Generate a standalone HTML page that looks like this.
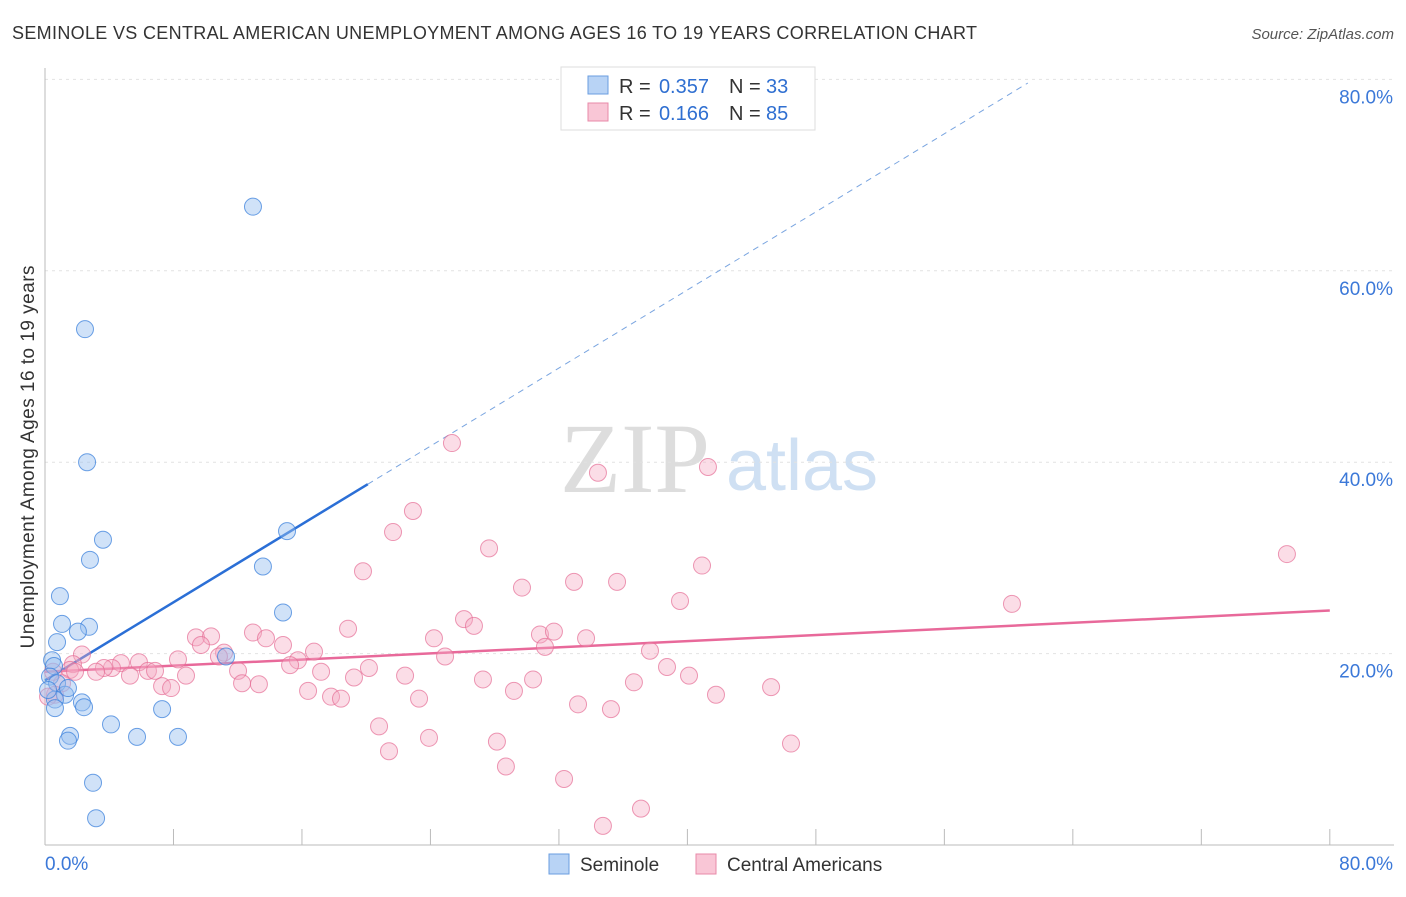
<!DOCTYPE html>
<html><head><meta charset="utf-8"><style>
body{margin:0;background:#fff;font-family:"Liberation Sans",sans-serif;}
svg text{font-family:"Liberation Sans",sans-serif;}
</style></head><body>
<svg id="c" width="1406" height="892">
<text x="12" y="39" font-size="18" fill="#333" textLength="965">SEMINOLE VS CENTRAL AMERICAN UNEMPLOYMENT AMONG AGES 16 TO 19 YEARS CORRELATION CHART</text>
<text x="1394" y="39" font-size="15" fill="#555" font-style="italic" text-anchor="end">Source: ZipAtlas.com</text>
<g>
<text x="635" y="492" font-size="100" fill="#ddd" style="font-family:'Liberation Serif',serif" text-anchor="middle">ZIP</text>
<text x="802" y="490" font-size="72" fill="#cfe0f3" text-anchor="middle">atlas</text>
</g>
<g id="grid"></g><g id="axes"></g><g id="lines"></g><g id="pts"></g>
<text transform="translate(34,457) rotate(-90)" font-size="19" fill="#333" text-anchor="middle" textLength="383">Unemployment Among Ages 16 to 19 years</text>
<g>
<rect x="561" y="67" width="254" height="63" fill="#fff" stroke="#ddd"/>
<rect x="588" y="76" width="20" height="18" fill="#b8d3f5" stroke="#6a9ee0"/>
<rect x="588" y="103" width="20" height="18" fill="#f9c6d6" stroke="#e88aa8"/>
<text x="619" y="93" font-size="20" fill="#333">R =</text>
<text x="709" y="93" font-size="20" fill="#2f6fd1" text-anchor="end">0.357</text>
<text x="729" y="93" font-size="20" fill="#333">N =</text>
<text x="766" y="93" font-size="20" fill="#2f6fd1">33</text>
<text x="619" y="120" font-size="20" fill="#333">R =</text>
<text x="709" y="120" font-size="20" fill="#2f6fd1" text-anchor="end">0.166</text>
<text x="729" y="120" font-size="20" fill="#333">N =</text>
<text x="766" y="120" font-size="20" fill="#2f6fd1">85</text>
</g>
<g>
<rect x="549" y="854" width="20" height="20" fill="#b8d3f5" stroke="#6a9ee0"/>
<text x="580" y="871" font-size="19" fill="#333">Seminole</text>
<rect x="696" y="854" width="20" height="20" fill="#f9c6d6" stroke="#e88aa8"/>
<text x="727" y="871" font-size="19" fill="#333">Central Americans</text>
</g>
</svg>
<script>
const blueX=[12.95,2.49,2.62,3.61,2.80,0.93,15.07,13.57,14.82,1.06,2.74,2.05,0.75,11.27,0.44,0.56,0.31,0.75,1.25,0.62,2.30,2.43,0.62,4.11,7.29,1.56,1.43,5.73,8.28,2.99,3.18,0.19,1.43];
const blueY=[66.7,53.9,40.0,31.9,29.8,26.0,32.8,29.1,24.3,23.1,22.8,22.3,21.2,19.7,19.3,18.7,17.6,16.9,15.7,15.2,14.9,14.4,14.3,12.6,14.2,11.4,10.9,11.3,11.3,6.5,2.8,16.2,16.4];
const pinkX=[25.34,34.43,41.28,22.91,21.67,27.65,19.80,29.70,32.94,35.62,40.91,39.54,77.33,60.21,26.09,26.71,18.87,30.82,31.69,24.22,33.69,31.13,37.67,9.40,10.34,12.95,13.76,14.82,11.15,10.83,9.71,16.75,15.75,15.26,24.91,20.17,8.28,5.85,4.73,4.17,3.67,6.41,5.29,6.85,8.78,12.02,3.18,2.30,1.74,1.56,1.87,1.06,0.62,0.19,17.19,19.24,22.42,27.27,30.39,38.73,40.10,36.67,13.32,12.27,7.29,7.85,16.38,17.81,18.43,23.29,29.20,33.19,35.24,41.78,45.21,20.80,23.91,28.14,21.42,28.70,32.32,37.11,34.74,46.45,0.50];
const pinkY=[42.0,38.9,39.5,34.9,32.7,31.0,28.6,26.9,27.5,27.5,29.2,25.5,30.4,25.2,23.6,22.9,22.6,22.0,22.3,21.6,21.6,20.7,20.3,21.7,21.8,22.2,21.6,20.9,20.1,19.7,20.9,20.2,19.3,18.8,19.7,18.5,19.4,19.1,19.0,18.5,18.5,18.2,17.7,18.2,17.7,18.2,18.1,19.9,18.9,18.3,18.1,16.9,15.7,15.5,18.1,17.5,17.7,17.3,17.3,18.6,17.7,17.0,16.8,16.9,16.6,16.4,16.1,15.5,15.3,15.3,16.1,14.7,14.2,15.7,16.5,12.4,11.2,10.8,9.8,8.2,6.9,3.8,2.0,10.6,18.1];
const yTicks=[20,40,60,80];
const yTickLabels=["20.0%","40.0%","60.0%","80.0%"];
const xTicks=[0,8,16,24,32,40,48,56,64,72,80];
const blueTrend=[17.2,1.02];
const pinkTrend=[18.1,0.08];
const NS="http://www.w3.org/2000/svg";
const sx=v=>45+v*16.06, sy=v=>845-v*9.57;
function mk(tag,attrs,parent){const e=document.createElementNS(NS,tag);for(const k in attrs)e.setAttribute(k,attrs[k]);document.getElementById(parent).appendChild(e);return e;}
yTicks.forEach((t,i)=>{
 const g=mk('line',{x1:45,x2:1394,y1:sy(t),y2:sy(t),stroke:'#e2e2e2','stroke-dasharray':'3,4'},'grid');
 
 
 const l=mk('text',{x:1393,y:sy(t)+24,'font-size':19,fill:'#3b78d8','text-anchor':'end'},'axes');
 l.textContent=yTickLabels[i];
 
 
});
mk('line',{x1:45,x2:45,y1:68,y2:845,stroke:'#bbb'},'axes');
mk('line',{x1:45,x2:1394,y1:845,y2:845,stroke:'#bbb'},'axes');
xTicks.forEach(t=>{const e=mk('line',{x1:sx(t),x2:sx(t),y1:829,y2:845,stroke:'#bbb'},'axes');
 
 });
const xl0=mk('text',{x:45,y:870,'font-size':19,fill:'#3b78d8'},'axes');xl0.textContent='0.0%';


const xl1=mk('text',{x:1393,y:870,'font-size':19,fill:'#3b78d8','text-anchor':'end'},'axes');xl1.textContent='80.0%';


pinkX.forEach((x,i)=>{const c=mk('circle',{cx:sx(x),cy:sy(pinkY[i]),r:8.5,fill:'rgba(246,170,195,0.4)',stroke:'rgba(230,110,150,0.7)','stroke-width':1},'pts');
 
 });
blueX.forEach((x,i)=>{const c=mk('circle',{cx:sx(x),cy:sy(blueY[i]),r:8.5,fill:'rgba(150,190,240,0.45)',stroke:'rgba(60,130,220,0.75)','stroke-width':1},'pts');
 
 });
const bEnd=20.1, bFar=61.2;
const b1=mk('line',{x1:sx(0),y1:sy(blueTrend[0]),x2:sx(bEnd),y2:sy(blueTrend[0]+blueTrend[1]*bEnd),stroke:'#2b6fd6','stroke-width':2.5},'lines');


const b2=mk('line',{x1:sx(bEnd),y1:sy(blueTrend[0]+blueTrend[1]*bEnd),x2:sx(bFar),y2:sy(blueTrend[0]+blueTrend[1]*bFar),stroke:'#7aa5e0','stroke-width':1,'stroke-dasharray':'6,5'},'lines');


const p1=mk('line',{x1:sx(0),y1:sy(pinkTrend[0]),x2:sx(80),y2:sy(pinkTrend[0]+pinkTrend[1]*80),stroke:'#e8699a','stroke-width':2.5},'lines');


</script>
</body></html>
